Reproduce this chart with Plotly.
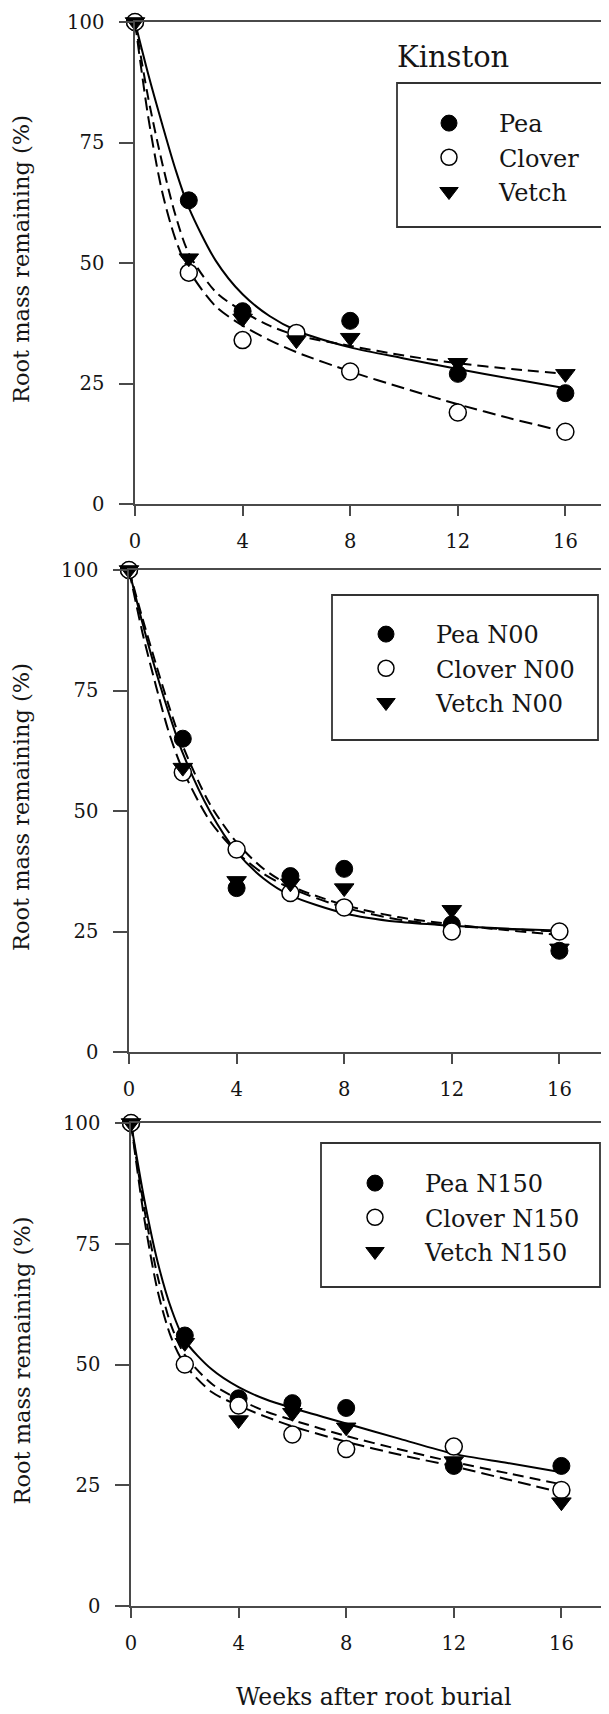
import plotly.graph_objects as go

# ---------------- data ----------------
weeks = [0, 2, 4, 6, 8, 12, 16]
weeks_pea_kinston = [0, 2, 4, 8, 12, 16]
fit_weeks = [0, 0.5, 1, 1.5, 2, 3, 4, 5, 6, 8, 10, 12, 14, 16]

x_ticks = [0, 4, 8, 12, 16]
x_tick_labels = ["0", "4", "8", "12", "16"]
y_ticks = [0, 25, 50, 75, 100]
y_tick_labels = ["0", "25", "50", "75", "100"]

# Panel 1 (Kinston)
pea_1 = [100, 63, 40, 38, 27, 23]
clover_1 = [100, 48, 34, 35.5, 27.5, 19, 15]
vetch_1 = [100, 51, 38.5, 34, 34.5, 29.3, 27]
pea_fit_1 = [100, 89, 79, 69.5, 61.5, 50.5, 43.5, 39, 36, 32.5, 30.2, 28, 26, 24]
clover_fit_1 = [100, 80, 65, 55, 48.5, 41, 37, 34, 31.5, 27.5, 24, 20.7, 17.7, 15]
vetch_fit_1 = [100, 84, 71, 60, 52, 44, 40, 37, 35, 32.8, 30.8, 29.2, 28, 27]

# Panel 2 (N00)
pea_2 = [100, 65, 34, 36.5, 38, 26.5, 21]
clover_2 = [100, 58, 42, 33, 30, 25, 25]
vetch_2 = [100, 59, 35.5, 35, 34, 29.5, 21.5]
pea_fit_2 = [100, 89, 79, 70, 62, 50, 41.5, 36, 32.5, 28.8, 27, 26.2, 25.6, 25.2]
clover_fit_2 = [100, 87, 76, 66, 58.5, 48, 41.5, 37, 34, 30, 27.5, 26.2, 25.5, 25]
vetch_fit_2 = [100, 90, 80.5, 71.5, 63.5, 51.5, 43.5, 38, 34.5, 30.5, 28, 26.5, 25.3, 24.3]

# Panel 3 (N150)
pea_3 = [100, 56, 43, 42, 41, 29, 29]
clover_3 = [100, 50, 41.5, 35.5, 32.5, 33, 24]
vetch_3 = [100, 54.5, 38.5, 40, 37, 30, 21.5]
pea_fit_3 = [100, 84, 71, 61.5, 55, 49, 45.3, 42.8, 41, 37.8, 34.6, 31.5, 29.6, 27.7]
clover_fit_3 = [100, 80, 65, 55.5, 50, 44.3, 41.5, 39.2, 37.2, 34, 31.3, 28.9, 26.2, 23.5]
vetch_fit_3 = [100, 82, 68, 58, 52, 46, 42.8, 40.3, 38.5, 35.2, 32.4, 29.8, 27.5, 25.2]

names_1 = ["Pea", "Clover", "Vetch"]
names_2 = ["Pea N00", "Clover N00", "Vetch N00"]
names_3 = ["Pea N150", "Clover N150", "Vetch N150"]

# ---------------- style / layout ----------------
PAGE_W, PAGE_H = 609, 1714
OFF = 8                      # default page body margin
W, H = PAGE_W - OFF, PAGE_H - OFF
FONT = "DejaVu Serif"
AX = "#4a4a4a"
PX_PER_WEEK = 26.9

def px(x):
    return (x - OFF) / W

def py(y):
    return 1 - (y - OFF) / H

# page-pixel geometry of each panel: (x of y-axis, top y, bottom y)
geom = [(135, 22, 504), (129, 570, 1052), (131, 1123, 1606)]
# legend: box (l, r, t, b), legend left, legend top
leg_geom = [
    ((397, 604, 83, 227), 399, 101),
    ((332, 598, 595, 740), 336, 612),
    ((321, 600, 1143, 1287), 325, 1161),
]

panels = [
    (weeks_pea_kinston, pea_1, clover_1, vetch_1, pea_fit_1, clover_fit_1, vetch_fit_1, names_1),
    (weeks, pea_2, clover_2, vetch_2, pea_fit_2, clover_fit_2, vetch_fit_2, names_2),
    (weeks, pea_3, clover_3, vetch_3, pea_fit_3, clover_fit_3, vetch_fit_3, names_3),
]

fig = go.Figure()
legend_keys = ["legend", "legend2", "legend3"]

for i, (wp, pea, clo, vet, pf, cf, vf, nms) in enumerate(panels):
    xa = "x" if i == 0 else f"x{i+1}"
    ya = "y" if i == 0 else f"y{i+1}"
    lk = legend_keys[i]
    for fy, dash in [(cf, "13px,6px"), (vf, "11px,6px"), (pf, "solid")]:
        fig.add_trace(go.Scatter(
            x=fit_weeks, y=fy, mode="lines", xaxis=xa, yaxis=ya,
            line=dict(color="black", width=2, dash=dash, shape="spline", smoothing=0.8),
            showlegend=False, hoverinfo="skip", cliponaxis=False))
    fig.add_trace(go.Scatter(
        x=wp, y=pea, mode="markers", xaxis=xa, yaxis=ya, legend=lk,
        name=nms[0],
        marker=dict(symbol="circle", size=17, color="black", line=dict(color="black", width=1)),
        cliponaxis=False))
    fig.add_trace(go.Scatter(
        x=weeks, y=clo, mode="markers", xaxis=xa, yaxis=ya, legend=lk,
        name=nms[1],
        marker=dict(symbol="circle", size=17, color="white", line=dict(color="black", width=1.5)),
        cliponaxis=False))
    fig.add_trace(go.Scatter(
        x=weeks, y=vet, mode="markers", xaxis=xa, yaxis=ya, legend=lk,
        name=nms[2],
        marker=dict(symbol="triangle-down", size=17, color="black", line=dict(color="black", width=1)),
        cliponaxis=False))

layout = dict(
    width=W, height=H,
    margin=dict(l=0, r=0, t=0, b=0, autoexpand=False),
    paper_bgcolor="white", plot_bgcolor="white",
    font=dict(family=FONT, color="black"),
    shapes=[], annotations=[],
)

for i, (x0, ytop, ybot) in enumerate(geom):
    xk = "xaxis" if i == 0 else f"xaxis{i+1}"
    yk = "yaxis" if i == 0 else f"yaxis{i+1}"
    xa = "x" if i == 0 else f"x{i+1}"
    ya = "y" if i == 0 else f"y{i+1}"
    layout[xk] = dict(
        domain=[px(x0), 1], range=[0, (PAGE_W - x0) / PX_PER_WEEK], anchor=ya,
        showline=True, linecolor=AX, linewidth=1.6, mirror=True,
        ticks="outside", ticklen=10, tickwidth=1.5, tickcolor=AX,
        tickvals=x_ticks, ticktext=x_tick_labels, ticklabelstandoff=9,
        tickfont=dict(family=FONT, size=19.5, color="#151515"),
        showgrid=False, zeroline=False, fixedrange=True, automargin=False)
    layout[yk] = dict(
        domain=[py(ybot), py(ytop)], range=[0, 100], anchor=xa,
        showline=True, linecolor=AX, linewidth=1.6, mirror=False,
        ticks="outside", ticklen=14, tickwidth=1.5, tickcolor=AX,
        tickvals=y_ticks, ticktext=y_tick_labels, ticklabelstandoff=11,
        tickfont=dict(family=FONT, size=19.5, color="#151515"),
        showgrid=False, zeroline=False, fixedrange=True, automargin=False)
    layout["annotations"].append(dict(
        text="Root mass remaining (%)", textangle=-90, showarrow=False,
        xref="paper", yref="paper", x=px(21), y=py((ytop + ybot) / 2 - 4),
        xanchor="center", yanchor="middle",
        font=dict(family=FONT, size=22.5, color="#151515")))

    (bl, br, bt, bb), lx, ly = leg_geom[i]
    layout["shapes"].append(dict(
        type="rect", xref="paper", yref="paper",
        x0=px(bl), x1=px(br), y0=py(bb), y1=py(bt),
        line=dict(color="#333333", width=1.8), fillcolor="rgba(0,0,0,0)"))
    layout[legend_keys[i]] = dict(
        x=px(lx), y=py(ly), xanchor="left", yanchor="top",
        bgcolor="rgba(0,0,0,0)", borderwidth=0,
        font=dict(family=FONT, size=24, color="#151515"),
        itemwidth=90, itemclick=False, itemdoubleclick=False)

layout["annotations"].append(dict(
    text="Kinston", showarrow=False, xref="paper", yref="paper",
    x=px(395), y=py(57), xanchor="left", yanchor="middle",
    font=dict(family=FONT, size=29, color="#151515")))
layout["annotations"].append(dict(
    text="Weeks after root burial", showarrow=False, xref="paper", yref="paper",
    x=px(373), y=py(1697), xanchor="center", yanchor="middle",
    font=dict(family=FONT, size=23.5, color="#151515")))

fig.update_layout(**layout)
fig.write_html("out.html")
